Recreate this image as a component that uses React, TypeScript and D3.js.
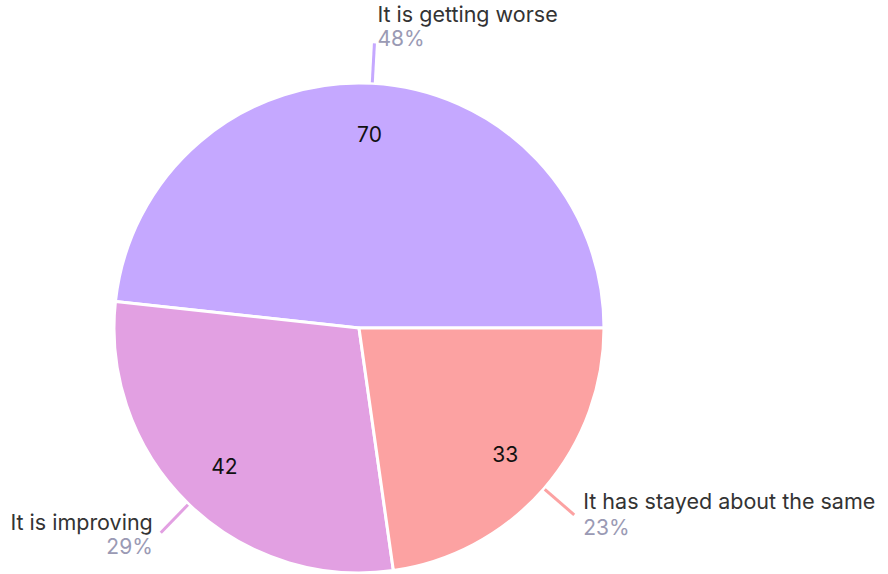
import React from "react";
import * as d3 from "d3";

const categories = ["It is getting worse", "It is improving", "It has stayed about the same"];
const values = [70, 42, 33];
const percentLabels = ["48%", "29%", "23%"];
const colors = ["#c5a8ff", "#e2a0e2", "#fca2a2"];

const W = 888;
const H = 574;
const cx = 359;
const cy = 328;
const R = 245;

export default function App() {
  const pie = d3
    .pie<number>()
    .sort(null)
    .startAngle(Math.PI / 2)
    .endAngle(Math.PI / 2 - 2 * Math.PI)
    .value((d) => d);
  const arcs = pie(values);
  const arc = d3.arc<d3.PieArcDatum<number>>().innerRadius(0).outerRadius(R);
  const pt = (a: number, r: number) => [Math.sin(a) * r, -Math.cos(a) * r];

  return (
    <svg
      width={W}
      height={H}
      style={{ position: "absolute", left: 0, top: 0, fontFamily: "Inter, 'Noto Sans', sans-serif" }}
    >
      <g transform={`translate(${cx},${cy})`}>
        {arcs.map((a, i) => (
          <path key={i} d={arc(a) || ""} fill={colors[i]} stroke="#fff" strokeWidth={3} strokeLinejoin="round" />
        ))}
        {arcs.map((a, i) => {
          const mid = (a.startAngle + a.endAngle) / 2;
          const [x, y] = pt(mid, R * 0.79);
          return (
            <text key={"v" + i} x={x} y={y} textAnchor="middle" dy="0.35em" fontSize={21} fill="#111">
              {values[i]}
            </text>
          );
        })}
        {arcs.map((a, i) => {
          const mid = (a.startAngle + a.endAngle) / 2;
          const [x1, y1] = pt(mid, R + 1);
          const [x2, y2] = pt(mid, R + 40);
          let tx = 0, ly = 0, py = 0, anchor = "start";
          if (i === 0) {
            tx = x2 + 3; ly = y2 - 21; py = y2 + 3; anchor = "start";
          } else if (x2 < 0) {
            tx = x2 - 8; ly = y2 - 3; py = y2 + 21; anchor = "end";
          } else {
            tx = x2 + 9; ly = y2 - 6; py = y2 + 20; anchor = "start";
          }
          return (
            <g key={"l" + i}>
              <line x1={x1} y1={y1} x2={x2} y2={y2} stroke={colors[i]} strokeWidth={3} />
              <text x={tx} y={ly} textAnchor={anchor} fontSize={21.5} fill="#333">
                {categories[i]}
              </text>
              <text x={tx} y={py} textAnchor={anchor} fontSize={21} fill="#9a9ab4">
                {percentLabels[i]}
              </text>
            </g>
          );
        })}
      </g>
    </svg>
  );
}
